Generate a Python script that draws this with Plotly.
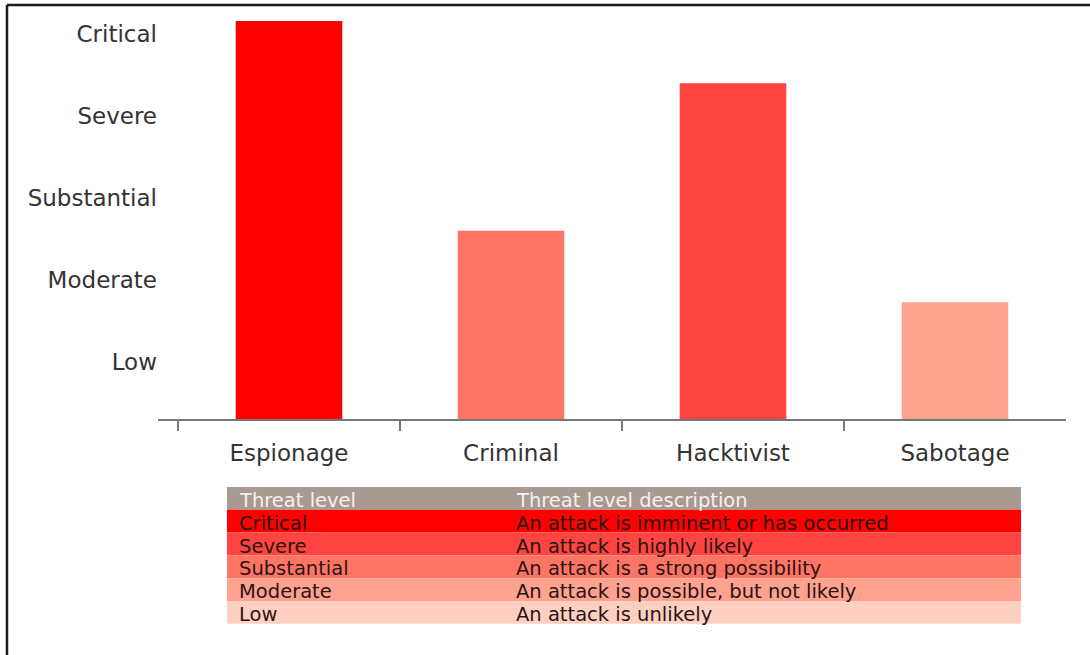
import plotly.graph_objects as go

# Threat actors and their assessed threat level (1 = Low ... 5 = Critical)
actors = ["Espionage", "Criminal", "Hacktivist", "Sabotage"]
threat_scores = [5.16, 2.60, 4.40, 1.73]

level_values = [1, 2, 3, 4, 5]
level_names = ["Low", "Moderate", "Substantial", "Severe", "Critical"]

table_header = ["Threat level", "Threat level description"]
table_levels = ["Critical", "Severe", "Substantial", "Moderate", "Low"]
table_descriptions = [
    "An attack is imminent or has occurred",
    "An attack is highly likely",
    "An attack is a strong possibility",
    "An attack is possible, but not likely",
    "An attack is unlikely",
]

bar_colors = ["#FF0000", "#FF7565", "#FF4441", "#FFA290"]
row_colors = ["#FF0000", "#FF4441", "#FF7565", "#FFA290", "#FFD0C2"]
header_color = "#A89A90"

W, H = 1090, 655
FONT = "DejaVu Sans, Verdana, sans-serif"

# Key table geometry (pixels from the top-left corner of the page)
TBL_LEFT, TBL_RIGHT = 227, 1021
TBL_TOP, ROW_H = 487, 22.8
COL_TEXT_X = [237, 514]


def px(x):
    return x / W


def py(y):
    return 1 - y / H


fig = go.Figure()

fig.add_trace(go.Bar(
    x=actors,
    y=threat_scores,
    marker=dict(color=bar_colors, line=dict(width=0)),
    width=0.48,
    showlegend=False,
    hoverinfo="x+y",
))

shapes = [
    # frame lines along the top and left edge
    dict(type="line", xref="paper", yref="paper",
         x0=px(7), x1=1.0, y0=py(5), y1=py(5),
         line=dict(color="#1A1A1A", width=2.5)),
    dict(type="line", xref="paper", yref="paper",
         x0=px(7), x1=px(7), y0=0, y1=py(5),
         line=dict(color="#1A1A1A", width=2.5)),
]
annotations = []

rows = [(table_header, header_color, "#F4F0EE")] + [
    ([lvl, desc], col, "#2A1414")
    for lvl, desc, col in zip(table_levels, table_descriptions, row_colors)
]
for i, (texts, fill, txt_color) in enumerate(rows):
    top = TBL_TOP + i * ROW_H
    shapes.append(dict(
        type="rect", xref="paper", yref="paper", layer="above",
        x0=px(TBL_LEFT), x1=px(TBL_RIGHT), y0=py(top + ROW_H), y1=py(top),
        fillcolor=fill, line=dict(width=0),
    ))
    for text, tx in zip(texts, COL_TEXT_X):
        annotations.append(dict(
            xref="paper", yref="paper", x=px(tx), y=py(top + ROW_H / 2 + 2),
            xanchor="left", yanchor="middle", showarrow=False, text=text,
            font=dict(family=FONT, size=19.5, color=txt_color),
        ))

fig.update_layout(
    width=W,
    height=H,
    margin=dict(l=0, r=0, t=0, b=0),
    paper_bgcolor="white",
    plot_bgcolor="white",
    font=dict(family=FONT, size=23, color="#333333"),
    xaxis=dict(
        domain=[px(158), px(1066)],
        range=[-0.59, 3.5],
        type="category",
        tickson="boundaries",
        ticks="outside",
        ticklen=10,
        tickwidth=2,
        tickcolor="#777777",
        showline=True,
        linecolor="#777777",
        linewidth=2,
        showgrid=False,
        zeroline=False,
        tickfont=dict(family=FONT, size=23, color="#333333"),
        ticklabelstandoff=12,
        fixedrange=True,
    ),
    yaxis=dict(
        domain=[py(419), py(10)],
        range=[0.305, 5.293],
        tickmode="array",
        tickvals=level_values,
        ticktext=level_names,
        showgrid=False,
        zeroline=False,
        showline=False,
        ticks="",
        tickfont=dict(family=FONT, size=23, color="#333333"),
        fixedrange=True,
    ),
    shapes=shapes,
    annotations=annotations,
)

fig.write_html("out.html")
